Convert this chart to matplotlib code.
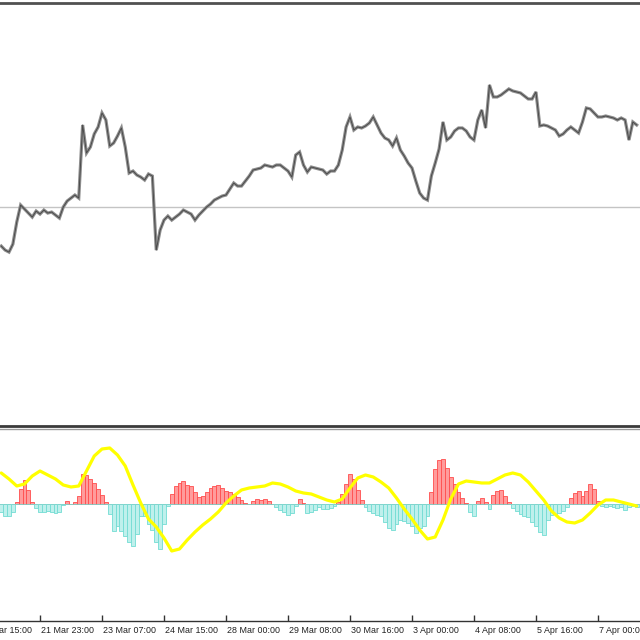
import numpy as np
import matplotlib
matplotlib.use('Agg')
import matplotlib.pyplot as plt
import matplotlib.transforms as mtransforms

# --- data (2-hour steps, hours counted from 21 Mar 23:00) ---
close = [109.61, 109.57, 109.55, 109.63, 109.85, 110.02, 109.98, 109.94, 109.90, 109.96,
         109.93, 109.97, 109.94, 109.95, 109.92, 109.89, 110.00, 110.06, 110.09, 110.12,
         110.09, 110.82, 110.54, 110.60, 110.73, 110.80, 110.94, 110.87, 110.61, 110.64,
         110.71, 110.79, 110.60, 110.34, 110.36, 110.32, 110.30, 110.27, 110.33, 110.31,
         109.57, 109.77, 109.87, 109.91, 109.87, 109.90, 109.93, 109.97, 109.95, 109.93,
         109.87, 109.92, 109.96, 110.00, 110.03, 110.07, 110.09, 110.11, 110.12, 110.18,
         110.24, 110.21, 110.21, 110.26, 110.31, 110.37, 110.38, 110.39, 110.42, 110.41,
         110.40, 110.42, 110.42, 110.39, 110.36, 110.30, 110.52, 110.55, 110.42, 110.35,
         110.40, 110.39, 110.38, 110.37, 110.33, 110.36, 110.36, 110.42, 110.57, 110.80,
         110.90, 110.77, 110.80, 110.79, 110.81, 110.84, 110.90, 110.82, 110.74, 110.69,
         110.67, 110.61, 110.69, 110.57, 110.51, 110.44, 110.39, 110.26, 110.14, 110.09,
         110.07, 110.31, 110.44, 110.58, 110.85, 110.67, 110.70, 110.76, 110.79, 110.79,
         110.76, 110.70, 110.67, 110.87, 110.97, 110.79, 111.22, 111.10, 111.10, 111.12,
         111.15, 111.18, 111.16, 111.15, 111.14, 111.11, 111.08, 111.08, 111.15, 110.81,
         110.82, 110.81, 110.79, 110.77, 110.71, 110.73, 110.77, 110.80, 110.77, 110.74,
         110.85, 110.99, 110.98, 110.94, 110.90, 110.90, 110.91, 110.90, 110.89, 110.87,
         110.89, 110.87, 110.67, 110.85, 110.82]

hist = [-0.08, -0.12, -0.12, -0.08, 0.02, 0.15, 0.24, 0.14, 0.02, -0.04,
        -0.08, -0.08, -0.07, -0.08, -0.09, -0.08, -0.01, 0.03, 0.00, 0.02,
        0.08, 0.30, 0.29, 0.25, 0.21, 0.15, 0.09, 0.02, -0.10, -0.27,
        -0.22, -0.27, -0.32, -0.38, -0.42, -0.30, -0.12, -0.12, -0.20, -0.26,
        -0.38, -0.45, -0.20, -0.02, 0.10, 0.18, 0.21, 0.23, 0.19, 0.18,
        0.12, 0.07, 0.08, 0.12, 0.16, 0.18, 0.19, 0.16, 0.13, 0.12,
        0.10, 0.07, 0.04, 0.01, 0.00, 0.03, 0.05, 0.04, 0.05, 0.03,
        0.00, -0.03, -0.06, -0.08, -0.11, -0.09, -0.02, 0.05, 0.01, -0.09,
        -0.08, -0.06, -0.03, -0.05, -0.05, -0.04, -0.02, 0.02, 0.10, 0.20,
        0.30, 0.25, 0.14, 0.04, -0.03, -0.07, -0.09, -0.11, -0.12, -0.18,
        -0.24, -0.26, -0.20, -0.16, -0.17, -0.19, -0.22, -0.29, -0.24, -0.22,
        -0.12, 0.12, 0.35, 0.44, 0.45, 0.36, 0.27, 0.20, 0.12, 0.06,
        0.01, -0.08, -0.12, 0.03, 0.06, 0.02, -0.05, 0.09, 0.13, 0.14,
        0.08, 0.02, -0.04, -0.07, -0.10, -0.12, -0.13, -0.18, -0.22, -0.28,
        -0.31, -0.16, -0.11, -0.10, -0.09, -0.07, -0.03, 0.06, 0.11, 0.13,
        0.08, 0.13, 0.20, 0.15, 0.03, -0.02, -0.03, -0.02, -0.03, -0.04,
        -0.03, -0.06, -0.03, -0.02, -0.03]

# signal line, 4-hour steps
signal = [0.31, 0.25, 0.18, 0.20, 0.28, 0.33, 0.29, 0.25, 0.19, 0.17,
          0.18, 0.33, 0.48, 0.55, 0.56, 0.49, 0.38, 0.19, 0.01, -0.15,
          -0.23, -0.34, -0.47, -0.45, -0.36, -0.28, -0.21, -0.15, -0.08, 0.01,
          0.08, 0.14, 0.16, 0.17, 0.18, 0.21, 0.20, 0.17, 0.13, 0.11,
          0.10, 0.07, 0.04, 0.02, 0.05, 0.16, 0.26, 0.29, 0.27, 0.22,
          0.16, 0.06, -0.05, -0.15, -0.26, -0.35, -0.33, -0.16, 0.05, 0.20,
          0.23, 0.22, 0.21, 0.21, 0.25, 0.29, 0.31, 0.29, 0.22, 0.13,
          0.04, -0.07, -0.14, -0.18, -0.19, -0.16, -0.09, -0.01, 0.04, 0.04,
          0.02, 0.00, -0.02]

level = 110.00
tick_hours = [-32, 0, 32, 64, 96, 128, 160, 192, 224, 256, 288]
tick_labels = ['20 Mar 15:00', '21 Mar 23:00', '23 Mar 07:00', '24 Mar 15:00', '28 Mar 00:00',
               '29 Mar 08:00', '30 Mar 16:00', '3 Apr 00:00', '4 Apr 08:00', '5 Apr 16:00',
               '7 Apr 00:00']

hours = np.arange(-20, -20 + 2 * len(close), 2)
sig_hours = np.arange(-20, -20 + 4 * len(signal), 4)
XLIM = (-20.65, 309.7)

fig = plt.figure(figsize=(6.4, 6.4), dpi=100)
fig.patch.set_facecolor('white')
ax1 = fig.add_axes([0, 0.334, 1, 0.6615])
ax2 = fig.add_axes([0, 0.0297, 1, 0.300])

# main price panel (small candles read as a jagged gray trace)
ax1.axhline(level, color='#c4c4c4', lw=1.0, zorder=1)
ax1.plot(hours, close, color='#8e8e8e', lw=2.3, solid_joinstyle='miter', zorder=2)
ax1.plot(hours, close, color='#4a4a4a', lw=0.7, zorder=3)
ax1.set_xlim(*XLIM); ax1.set_ylim(107.81, 112.04)
ax1.set_xticks([]); ax1.set_yticks([])
for s in ('left', 'right'): ax1.spines[s].set_visible(False)
ax1.spines['top'].set_color('#505050'); ax1.spines['top'].set_linewidth(2.0)
ax1.spines['bottom'].set_color('#3a3a3a'); ax1.spines['bottom'].set_linewidth(2.0)

# oscillator panel
h = np.array(hist)
pos = np.where(h > 0, h, 0); neg = np.where(h < 0, h, 0)
ax2.bar(hours, pos, width=2.0, color='#ff9c9c', edgecolor='#ff4d4d', linewidth=0.6, zorder=2)
ax2.bar(hours, neg, width=2.0, color='#bff0ec', edgecolor='#72dcd3', linewidth=0.6, zorder=2)
ax2.plot(sig_hours, signal, color='#ffff00', lw=2.3, zorder=3, solid_capstyle='round')
ax2.set_xlim(*XLIM); ax2.set_ylim(-1.17, 0.75)
ax2.set_yticks([])
for s in ('left', 'right'): ax2.spines[s].set_visible(False)
ax2.spines['top'].set_color('#9a9a9a'); ax2.spines['top'].set_linewidth(1.0)
ax2.spines['bottom'].set_color('#333333'); ax2.spines['bottom'].set_linewidth(1.0)
ax2.set_xticks([t for t in tick_hours if XLIM[0] < t < XLIM[1]])
ax2.tick_params(axis='x', direction='in', length=4, width=1, color='#333333', labelbottom=False)

trans = mtransforms.blended_transform_factory(ax2.transData, ax2.transAxes)
for t, lab in zip(tick_hours, tick_labels):
    ax2.text(t + 0.6, -0.028, lab, transform=trans, ha='left', va='top', fontsize=6.4,
             family='Liberation Sans', color='#222222', clip_on=False)

fig.savefig('out.png', dpi=100, facecolor='white')
